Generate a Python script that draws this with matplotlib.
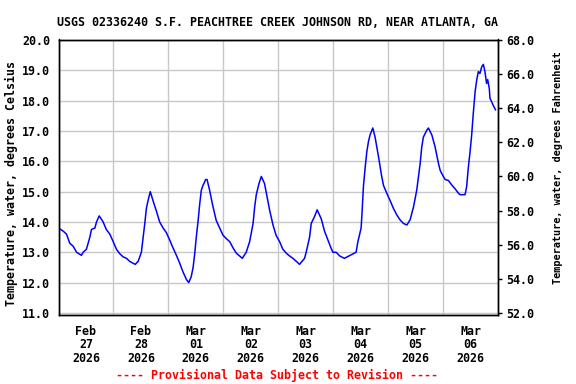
import datetime as dt
import matplotlib
matplotlib.use("Agg")
import matplotlib.pyplot as plt
import matplotlib.dates as mdates

# ---------------- data ----------------
start_time = "2026-02-27 00:00"
end_time = "2026-03-07 00:00"
hours_since_start = [
    0.0, 2.0, 3.5, 4.9, 6.4, 7.9, 10.0, 10.8, 12.2, 13.7, 14.4, 15.9, 16.6, 17.8,
    19.5, 20.9, 22.4, 23.9, 25.3, 26.8, 28.2, 29.7, 31.1, 33.5, 34.8, 36.2, 37.0,
    37.7, 38.4, 39.1, 40.1, 41.3, 42.8, 44.2, 45.7, 47.1, 48.6, 50.0, 51.5, 52.9,
    54.4, 55.9, 56.9, 58.0, 58.8, 59.5, 60.2, 61.0, 61.7, 62.4, 63.1, 64.3, 64.9,
    66.0, 67.5, 68.9, 70.4, 71.8, 73.3, 74.8, 76.2, 77.7, 79.1, 80.3, 82.0, 83.5,
    85.0, 85.7, 86.4, 87.6, 88.6, 90.0, 90.8, 92.2, 93.7, 95.1, 96.6, 98.0, 99.5,
    100.9, 102.4, 103.9, 105.3, 107.5, 108.2, 109.7, 110.4, 111.8, 113.0, 114.8,
    116.2, 117.7, 119.1, 119.9, 121.3, 122.8, 124.9, 127.4, 130.0, 130.8, 132.2,
    132.6, 133.2, 134.0, 134.7, 135.4, 136.1, 137.3, 138.3, 139.8, 140.5, 141.2,
    142.0, 143.4, 144.9, 146.3, 147.8, 149.2, 150.7, 152.2, 153.6, 155.1, 156.5,
    158.0, 158.7, 159.4, 160.9, 161.6, 163.1, 164.5, 166.0, 166.7, 167.4, 168.9,
    170.3, 171.8, 173.2, 174.7, 175.4, 177.6, 178.3, 179.0, 179.8, 180.5, 181.2,
    182.0, 182.7, 183.4, 184.1, 184.9, 185.6, 186.3, 187.0, 187.5, 188.2, 188.5,
    189.2, 189.9, 190.9,
]
temp_c = [
    13.8, 13.7, 13.6, 13.3, 13.2, 13.0, 12.9, 13.0, 13.1, 13.5, 13.75, 13.8, 14.0, 14.2,
    14.0, 13.75, 13.6, 13.35, 13.1, 12.95, 12.85, 12.8, 12.7, 12.6, 12.7, 13.0, 13.5,
    13.95, 14.45, 14.7, 15.0, 14.7, 14.35, 14.0, 13.8, 13.65, 13.4, 13.15, 12.9, 12.65,
    12.35, 12.1, 12.0, 12.2, 12.5, 12.95, 13.5, 14.05, 14.6, 15.05, 15.2, 15.4, 15.4,
    15.05, 14.5, 14.05, 13.8, 13.57, 13.45, 13.35, 13.15, 12.97, 12.88, 12.8, 13.0, 13.35,
    13.95, 14.5, 14.9, 15.27, 15.5, 15.27, 14.95, 14.4, 13.9, 13.55, 13.35, 13.1, 12.97,
    12.88, 12.8, 12.7, 12.6, 12.8, 13.0, 13.5, 13.95, 14.17, 14.4, 14.1,
    13.7, 13.4, 13.13, 13.0, 13.0, 12.88, 12.8, 12.9, 13.0, 13.35, 13.8,
    14.3, 15.16, 15.82, 16.32, 16.65, 16.87, 17.1, 16.8, 16.15, 15.82, 15.5,
    15.2, 14.95, 14.7, 14.45, 14.23, 14.07, 13.95, 13.9, 14.07, 14.5, 15.05,
    15.93, 16.48, 16.8, 17.03, 17.1, 16.87, 16.48, 15.93, 15.71, 15.6, 15.4,
    15.37, 15.22, 15.1, 14.95, 14.9, 14.9, 15.16, 15.77, 16.32, 16.87, 17.58,
    18.3, 18.68, 18.96, 18.9, 19.12, 19.2, 18.96, 18.57, 18.7, 18.4, 18.08,
    17.97, 17.85, 17.7,
]
left_ticks = [11.0, 12.0, 13.0, 14.0, 15.0, 16.0, 17.0, 18.0, 19.0, 20.0]
right_ticks = [52.0, 54.0, 56.0, 58.0, 60.0, 62.0, 64.0, 66.0, 68.0]
title = "USGS 02336240 S.F. PEACHTREE CREEK JOHNSON RD, NEAR ATLANTA, GA"
left_label = "Temperature, water, degrees Celsius"
right_label = "Temperature, water, degrees Fahrenheit"
footer = "---- Provisional Data Subject to Revision ----"

# ---------------- plot ----------------
FONT = "DejaVu Sans Mono"
FS = 8.4
plt.rcParams["font.family"] = FONT
plt.rcParams["font.weight"] = "bold"

t0 = dt.datetime.strptime(start_time, "%Y-%m-%d %H:%M")
t1 = dt.datetime.strptime(end_time, "%Y-%m-%d %H:%M")
times = [t0 + dt.timedelta(hours=h) for h in hours_since_start]

fig = plt.figure(figsize=(5.76, 3.84), dpi=100)
ax = fig.add_axes([58.5 / 576, 1 - 315 / 384, (498 - 58.5) / 576, (315 - 39.5) / 384])

ylo, yhi = 10.93, 20.02
ax.set_ylim(ylo, yhi)
ax.set_xlim(t0, t1)

ax.plot(times, temp_c, color="#0000ff", linewidth=1.1, zorder=3)

# grid
ax.set_yticks(left_ticks)
ax.set_yticklabels([f"{v:.1f}" for v in left_ticks], fontsize=FS, fontweight="bold")
ax.xaxis.set_major_locator(mdates.DayLocator())
ax.xaxis.set_major_formatter(matplotlib.ticker.NullFormatter())
ax.xaxis.set_minor_locator(mdates.HourLocator(byhour=[12]))
ax.xaxis.set_minor_formatter(mdates.DateFormatter("%b\n%d\n%Y"))
ax.grid(True, which="major", color="#c8c8c8", linewidth=1.0, zorder=1)
ax.tick_params(axis="x", which="both", length=0)
ax.tick_params(axis="x", which="minor", pad=7, labelsize=FS)
ax.tick_params(axis="y", which="both", length=0, pad=6)
for lab in ax.xaxis.get_minorticklabels():
    lab.set_fontweight("bold")
    lab.set_linespacing(1.05)
for s in ax.spines.values():
    s.set_color("black")
    s.set_linewidth(1.0)

ax2 = ax.twinx()
ax2.set_ylim(52 + (ylo - 11) * 16 / 9, 68 + (yhi - 20) * 16 / 9)
ax2.set_yticks(right_ticks)
ax2.set_yticklabels([f"{v:.1f}" for v in right_ticks], fontsize=FS, fontweight="bold")
ax2.tick_params(axis="y", length=3, width=1, pad=3, color="black")
for s in ax2.spines.values():
    s.set_linewidth(1.0)

fig.text(277.5 / 576, 1 - 22.5 / 384, title, ha="center", va="center",
         fontsize=FS, fontweight="bold", color="black")
fig.text(11.7 / 576, 1 - 183 / 384, left_label, rotation=90, ha="center", va="center",
         fontsize=FS, fontweight="bold")
fig.text(557.7 / 576, 1 - 168 / 384, right_label, rotation=90, ha="center", va="center",
         fontsize=7.4, fontweight="bold")
fig.text(277 / 576, 1 - 375 / 384, footer, ha="center", va="center",
         fontsize=FS, fontweight="bold", color="#ff0000")

fig.savefig("out.png", dpi=100)
